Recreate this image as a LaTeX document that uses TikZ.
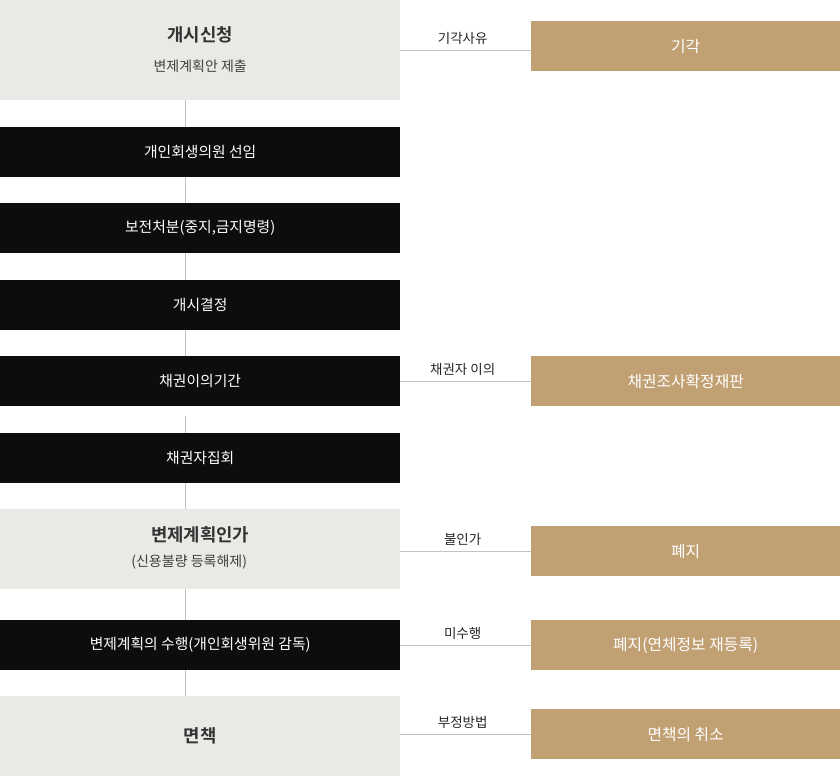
\documentclass[tikz,border=0pt]{standalone}
\usepackage{fontspec}
\setmainfont{Noto Sans CJK KR}[BoldFont={Noto Sans CJK KR Bold}]
\definecolor{stepgray}{HTML}{EBE9E5}
\definecolor{stepblack}{HTML}{0D0D0D}
\definecolor{resultgold}{HTML}{C1A073}
\definecolor{linkgray}{HTML}{C2C2C2}
\tikzset{
  leftbox/.style={inner sep=0pt, minimum width=400pt, anchor=north west, align=center},
  graybox/.style={leftbox, fill=stepgray},
  blackbox/.style={leftbox, fill=stepblack, minimum height=50pt, text=white, font=\fontsize{14.8}{17}\selectfont},
  goldbox/.style={inner sep=0pt, minimum width=309pt, minimum height=50pt, anchor=north west, fill=resultgold, text=white, font=\fontsize{15.8}{18}\selectfont},
  boxtitle/.style={inner sep=0pt, text=black!80, font=\fontsize{17.8}{20}\selectfont\bfseries},
  boxsub/.style={inner sep=0pt, text=black!75, font=\fontsize{14}{16}\selectfont},
  link/.style={draw=linkgray, line width=1pt},
  reason/.style={above=5pt, xshift=-3pt, inner sep=0pt, text=black!85, font=\fontsize{13.5}{15}\selectfont}
}
\begin{document}
\begin{tikzpicture}[x=1pt,y=-1pt]
  \useasboundingbox (0,0) rectangle (840,776);

  % left column
  \node[graybox, minimum height=100pt] (b1) at (0,0) {};
  \node[boxtitle] (t1) at ([yshift=15pt]b1.center) {개시신청};
  \node[boxsub] (s1) at ([yshift=-16pt]b1.center) {변제계획안 제출};
  \node[blackbox] (b2) at (0,127) {개인회생의원 선임};
  \node[blackbox] (b3) at (0,203) {보전처분(중지,금지명령)};
  \node[blackbox] (b4) at (0,280) {개시결정};
  \node[blackbox] (b5) at (0,356) {채권이의기간};
  \node[blackbox] (b6) at (0,433) {채권자집회};
  \node[graybox, minimum height=80pt] (b7) at (0,509) {};
  \node[boxtitle] (t7) at ([yshift=14pt]b7.center) {변제계획인가};
  \node[boxsub] (s7) at ([xshift=-11pt,yshift=-13pt]b7.center) {(신용불량 등록해제)};
  \node[blackbox] (b8) at (0,620) {변제계획의 수행(개인회생위원 감독)};
  \node[graybox, minimum height=80pt] (b9) at (0,696) {};
  \node[boxtitle] (t9) at (b9.center) {면책};

  % right column
  \node[goldbox] (r1) at (531,21) {기각};
  \node[goldbox] (r2) at (531,356) {채권조사확정재판};
  \node[goldbox] (r3) at (531,526) {폐지};
  \node[goldbox] (r4) at (531,620) {폐지(연체정보 재등록)};
  \node[goldbox] (r5) at (531,709) {면책의 취소};

  % flow
  \foreach \a/\b/\s in {b1/b2/0, b2/b3/0, b3/b4/0, b4/b5/0, b5/b6/10, b6/b7/0, b7/b8/0, b8/b9/0}
    \draw[link] ([xshift=-15pt,yshift=-\s pt]\a.south) -- ([xshift=-15pt]\b.north);

  % branches
  \draw[link] (b1.east) -- (b1.east -| r1.west) node[midway, reason] {기각사유};
  \draw[link] (r2.west -| b5.east) -- (r2.west) node[midway, reason] {채권자 이의};
  \draw[link] (r3.west -| b7.east) -- (r3.west) node[midway, reason] {불인가};
  \draw[link] (r4.west -| b8.east) -- (r4.west) node[midway, reason] {미수행};
  \draw[link] (r5.west -| b9.east) -- (r5.west) node[midway, reason] {부정방법};
\end{tikzpicture}
\end{document}
